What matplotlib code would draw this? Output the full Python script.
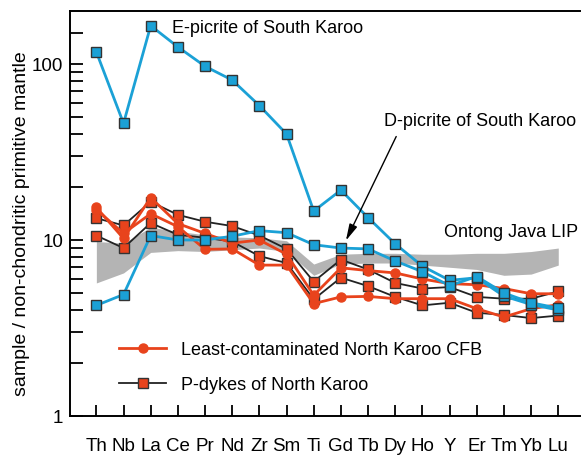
import numpy as np
import matplotlib
matplotlib.use('Agg')
from matplotlib import pyplot as plt
from matplotlib.lines import Line2D
from matplotlib.ticker import FixedLocator, NullFormatter

plt.rcParams['font.family'] = ['Liberation Sans', 'DejaVu Sans']

#%% Datos

elements = ['Th','Nb','La','Ce','Pr','Nd','Zr','Sm','Ti','Gd','Tb','Dy','Ho','Y','Er','Tm','Yb','Lu']

e_picrite = [117, 46, 165, 125, 97, 81, 58, 40, 14.6, 19.2, 13.4, 9.5, 7.1, 5.9, 6.1, 4.8, 4.3, 4.0]
d_picrite = [4.25, 4.9, 10.6, 10.0, 10.0, 10.5, 11.3, 11.0, 9.4, 9.0, 8.9, 7.6, 6.6, 5.5, 6.2, 5.0, 4.4, 4.1]

# Least-contaminated North Karoo CFB (círculos)
cfb_a = [15.3, 10.2, 17.4, 12.4, 10.9, 9.6, 10.0, 8.3, 4.85, 6.95, 6.7, 6.5, 6.0, 5.65, 5.57, 5.3, 4.95, 4.95]
cfb_b = [14.9, 10.9, 14.1, 11.9, 8.85, 8.9, 7.2, 7.2, 4.35, 4.75, 4.78, 4.64, 4.64, 4.64, 4.07, 3.65, 4.07, 4.29]

# P-dykes of North Karoo (cuadrados)
pdyke_a = [13.3, 12.1, 16.5, 13.9, 12.7, 12.0, 10.6, 8.9, 5.8, 7.74, 6.8, 5.7, 5.3, 5.4, 4.75, 4.64, 4.64, 5.1]
pdyke_b = [10.6, 9.0, 12.5, 10.7, 10.3, 9.8, 8.1, 7.4, 4.6, 6.11, 5.47, 4.75, 4.25, 4.4, 3.86, 3.75, 3.6, 3.72]

# Ontong Java LIP (banda gris)
oj_top = [9.8, 9.6, 11.8, 11.2, 10.7, 10.4, 10.3, 9.9, 7.3, 8.3, 8.4, 8.4, 8.3, 8.3, 8.4, 8.4, 8.6, 9.0]
oj_bot = [5.7, 6.5, 8.5, 8.7, 8.6, 8.8, 9.0, 8.6, 6.3, 7.3, 7.4, 7.4, 7.2, 7.0, 6.8, 6.3, 6.4, 7.2]

#%% Grafico

blue = '#1ba1d6'
red = '#e8431c'
edge = '#333333'
x = np.arange(len(elements))

fig = plt.figure(figsize=(5.82, 4.56), dpi=100)
ax = fig.add_axes([70/582, 1-417/456, 510/582, 405/456])

ax.fill_between(x, oj_bot, oj_top, color='#b4b4b4', lw=0, zorder=1)

for s in [pdyke_a, pdyke_b]:
    ax.plot(x, s, '-s', color='#222222', lw=1.3, ms=6.5, mfc=red, mec=edge, mew=1, zorder=3)
for s in [cfb_a, cfb_b]:
    ax.plot(x, s, '-o', color=red, lw=2, ms=6.5, mfc=red, mec=red, zorder=4)
for s in [e_picrite, d_picrite]:
    ax.plot(x, s, '-s', color=blue, lw=2, ms=6.5, mfc=blue, mec=edge, mew=1, zorder=5)

ax.set_yscale('log')
ax.set_ylim(1, 200)
ax.set_xlim(-0.97, 17.8)

ax.yaxis.set_major_locator(FixedLocator([1, 10, 100]))
ax.yaxis.set_minor_locator(FixedLocator([2,3,4,5,6,7,8,9,20,30,40,50,60,70,80,90,150]))
ax.yaxis.set_minor_formatter(NullFormatter())
ax.set_yticklabels(['1', '10', '100'])
ax.set_xticks(x)
ax.set_xticklabels(elements)

ax.tick_params(axis='y', which='both', direction='in', length=9, width=1.3, labelsize=13.5, pad=5)
ax.tick_params(axis='x', direction='in', length=8, width=1.3, labelsize=13.5, pad=15)

ax.spines['right'].set_visible(False)
for sp in ['left', 'top', 'bottom']:
    ax.spines[sp].set_linewidth(1.4)

ax.set_ylabel('sample / non-chondritic primitive mantle', fontsize=14)
ax.yaxis.set_label_coords(-0.078, 0.478)

ax.text(2.78, 162, 'E-picrite of South Karoo', fontsize=13, va='center', ha='left')
ax.text(10.6, 48, 'D-picrite of South Karoo', fontsize=13, va='center', ha='left')
ax.text(12.8, 11.2, 'Ontong Java LIP', fontsize=13, va='center', ha='left')
ax.annotate('', xy=(9.14, 9.6), xytext=(11.08, 40),
            arrowprops=dict(arrowstyle='-|>,head_length=1.0,head_width=0.25', color='black', lw=1), zorder=6)

handles = [Line2D([], [], color=red, lw=2, marker='o', ms=6.5, mfc=red, mec=red),
           Line2D([], [], color='#222222', lw=1.3, marker='s', ms=6.5, mfc=red, mec=edge)]
ax.legend(handles, ['Least-contaminated North Karoo CFB', 'P-dykes of North Karoo'],
          loc='upper left', bbox_to_anchor=(0.065, 0.225), frameon=False, fontsize=13,
          handlelength=2.6, handletextpad=0.8, labelspacing=1.0)

plt.savefig('out.png', dpi=100)
